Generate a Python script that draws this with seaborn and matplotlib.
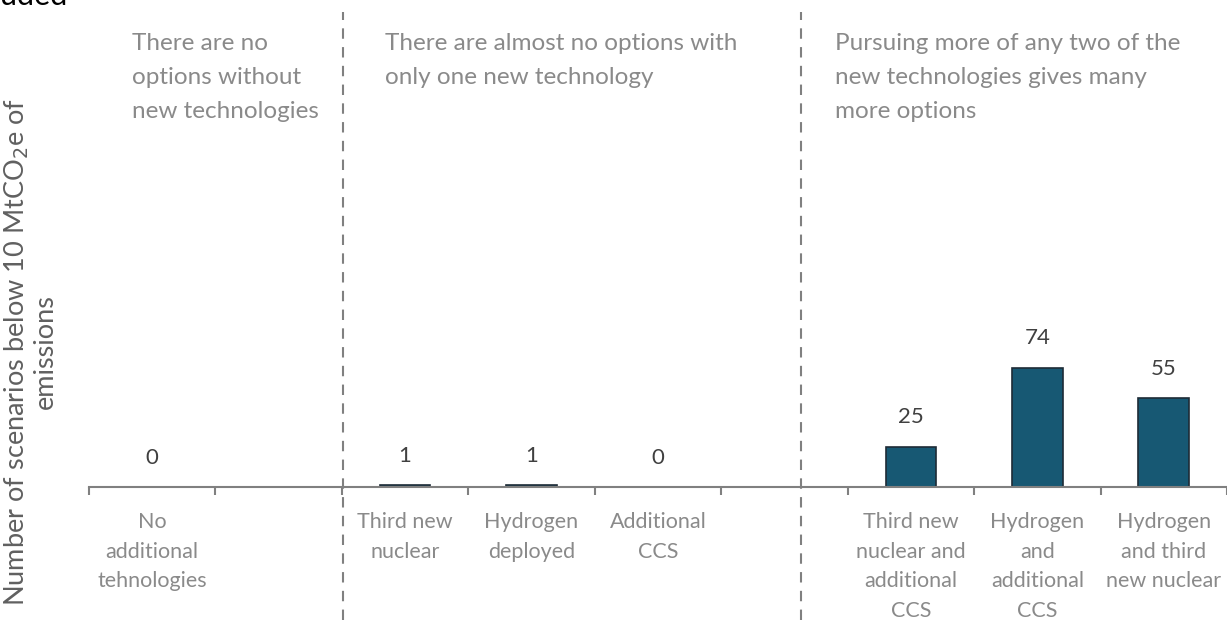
import numpy as np
import pandas as pd
import seaborn as sns
import matplotlib.pyplot as plt
import matplotlib.transforms as mtransforms

# data
categories = ['No\nadditional\ntehnologies', ' ', 'Third new\nnuclear', 'Hydrogen\ndeployed',
              'Additional\nCCS', '  ', 'Third new\nnuclear and\nadditional\nCCS',
              'Hydrogen\nand\nadditional\nCCS', 'Hydrogen\nand third\nnew nuclear']
scenarios = [0, np.nan, 1, 1, 0, np.nan, 25, 74, 55]
headers = ['There are no\noptions without\nnew technologies',
           'There are almost no options with\nonly one new technology',
           'Pursuing more of any two of the\nnew technologies gives many\nmore options']
header_x = [-0.16, 1.84, 5.40]
divider_x = [1.51, 5.13]

df = pd.DataFrame({'category': categories, 'scenarios': scenarios})

sns.set_style('white')
plt.rcParams['font.family'] = ['Lato', 'DejaVu Sans']

fig = plt.figure(figsize=(12.27, 6.2), dpi=100)
ax = fig.add_axes([0.0725, 0.2145, 0.9275, 0.7855])

sns.barplot(data=df, x='category', y='scenarios', color='#175873', width=0.4,
            edgecolor='#1e2b36', linewidth=1.2, saturation=1, ax=ax)

ax.set_xlim(-0.5, 8.5)
ax.set_ylim(0, 302)
ax.set_yticks([])
ax.set_xlabel('')
ax.set_ylabel('')
for s in ['top', 'right', 'left']:
    ax.spines[s].set_visible(False)
ax.spines['bottom'].set_color('#808080')
ax.spines['bottom'].set_linewidth(1.5)

# category labels at centres, tick marks at slot boundaries
ax.set_xticks(range(len(categories)))
ax.set_xticklabels(categories, fontsize=15.5, color='#8a8a8a', linespacing=1.6)
ax.tick_params(axis='x', which='major', bottom=True, length=0, pad=18)
ax.set_xticks(np.arange(-0.5, 9, 1), minor=True)
ax.tick_params(axis='x', which='minor', bottom=True, length=6, width=1.5,
               color='#808080', direction='out')

# value labels
for i, v in enumerate(scenarios):
    if np.isnan(v):
        continue
    ax.annotate(f'{int(v)}', (i, v), xytext=(0, 14), textcoords='offset points',
                ha='center', va='bottom', fontsize=16, color='#404040')

# section dividers and headers
trans = mtransforms.blended_transform_factory(ax.transData, fig.transFigure)
for x in divider_x:
    ax.plot([x, x], [0, 1 - 12 / 620], transform=trans, ls=(0, (5, 4)),
            color='#808080', lw=1.5, clip_on=False)
trans_h = mtransforms.blended_transform_factory(ax.transData, ax.transAxes)
for x, txt in zip(header_x, headers):
    ax.text(x, 1 - 33 / 487, txt, transform=trans_h, ha='left', va='top',
            fontsize=17.5, color='#8a8a8a', linespacing=1.75)

fig.text(30 / 1227, 1 - 352 / 620, 'Number of scenarios below 10 MtCO$_2$e of\nemissions',
         rotation=90, ha='center', va='center', fontsize=19.5, color='#606060',
         multialignment='center', linespacing=1.1)

# cropped title fragment
fig.text(0.0, 1 - 5 / 620, 'uded', ha='left', va='baseline', fontsize=22, color='black')

fig.savefig('out.png', dpi=100)
